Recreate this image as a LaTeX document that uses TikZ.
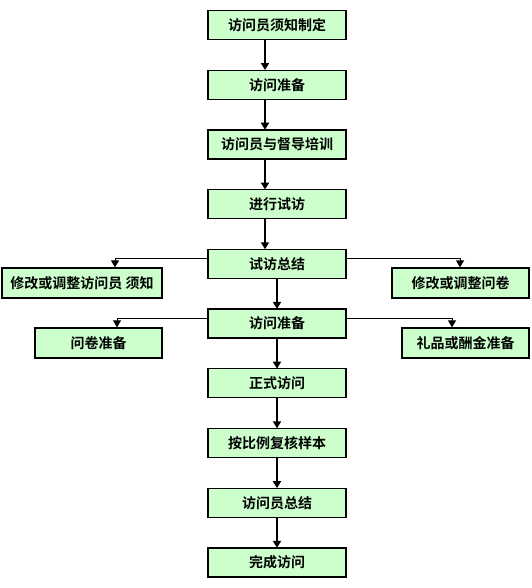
\documentclass[tikz,border=0pt]{standalone}
\usepackage{fontspec}
\setmainfont{Noto Sans CJK SC}[BoldFont={* Bold}]
\usetikzlibrary{arrows.meta}
\definecolor{boxgreen}{HTML}{CCFFCC}
\tikzset{
  mainbox/.style={draw=black, line width=1.3pt, fill=boxgreen, minimum width=138pt, minimum height=29pt, inner sep=0pt, font=\fontsize{14}{16}\selectfont\bfseries},
  sidebox/.style={mainbox, minimum height=30pt},
  mainarrow/.style={line width=2.2pt, -{Triangle[width=8pt,length=7pt]}, shorten >=-0.5pt},
  brancharrow/.style={line width=1pt, -{Triangle[width=8pt,length=7pt]}}
}
\begin{document}
\begin{tikzpicture}[x=1pt,y=-1pt]
\useasboundingbox (0,0) rectangle (531,588);
% main chain
\node[mainbox] (b1) at (277,25) {访问员须知制定};
\node[mainbox] (b2) at (277,84.7) {访问准备};
\node[mainbox] (b3) at (277,144.4) {访问员与督导培训};
\node[mainbox] (b4) at (277,204.2) {进行试访};
\node[mainbox] (b5) at (277,263.9) {试访总结};
\node[mainbox] (b6) at (277,323.6) {访问准备};
\node[mainbox] (b7) at (277,383.3) {正式访问};
\node[mainbox] (b8) at (277,443) {按比例复核样本};
\node[mainbox] (b9) at (277,502.8) {访问员总结};
\node[mainbox] (b10) at (277,562.5) {完成访问};
% side boxes
\node[sidebox, minimum width=160pt] (sl1) at (82,283) {修改或调整访问员 须知};
\node[sidebox, minimum width=137pt] (sr1) at (460.5,283) {修改或调整问卷};
\node[sidebox, minimum width=127pt] (sl2) at (98.5,343) {问卷准备};
\node[sidebox, minimum width=127pt] (sr2) at (465.5,343) {礼品或酬金准备};
% arrow axes
\coordinate (ua) at (265,0);
\coordinate (la) at (277,0);
\draw[mainarrow] (b1.south -| ua) -- (b2.north -| ua);
\draw[mainarrow] (b2.south -| ua) -- (b3.north -| ua);
\draw[mainarrow] (b3.south -| ua) -- (b4.north -| ua);
\draw[mainarrow] (b4.south -| ua) -- (b5.north -| ua);
\draw[mainarrow] (b5.south -| la) -- (b6.north -| la);
\draw[mainarrow] (b6.south -| la) -- (b7.north -| la);
\draw[mainarrow] (b7.south -| la) -- (b8.north -| la);
\draw[mainarrow] (b8.south -| la) -- (b9.north -| la);
\draw[mainarrow] (b9.south -| la) -- (b10.north -| la);
% branches
\coordinate (p1) at (115,258);
\coordinate (p2) at (460,258);
\coordinate (p3) at (117,318);
\coordinate (p4) at (452,318);
\draw[brancharrow] (b5.west |- p1) -| (sl1.north -| p1);
\draw[brancharrow] (b5.east |- p2) -| (sr1.north -| p2);
\draw[brancharrow] (b6.west |- p3) -| (sl2.north -| p3);
\draw[brancharrow] (b6.east |- p4) -| (sr2.north -| p4);
\end{tikzpicture}
\end{document}
